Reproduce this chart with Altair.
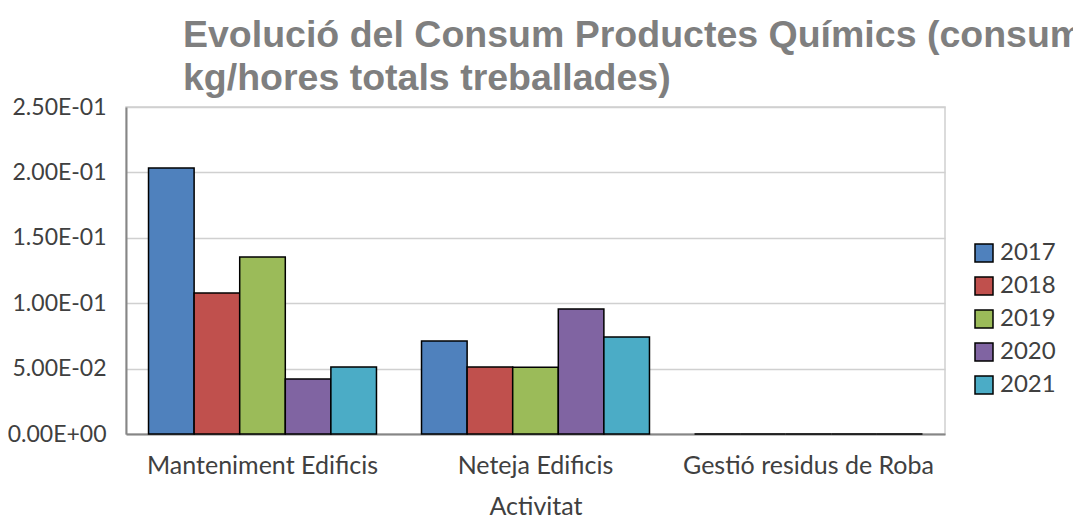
import altair as alt
import pandas as pd

categories = ["Manteniment Edificis", "Neteja Edificis", "Gestió residus de Roba"]
years = ["2017", "2018", "2019", "2020", "2021"]
v2017 = [0.2034, 0.0711, 0.0]
v2018 = [0.1078, 0.0512, 0.0]
v2019 = [0.1353, 0.0510, 0.0]
v2020 = [0.0420, 0.0956, 0.0]
v2021 = [0.0512, 0.0742, 0.0]
colors = ["#4f81bd", "#c0504d", "#9bbb59", "#8064a2", "#4bacc6"]
y_ticks = [0.0, 0.05, 0.10, 0.15, 0.20, 0.25]
title_lines = ["Evolució del Consum Productes Químics (consum", "kg/hores totals treballades)"]

series = [v2017, v2018, v2019, v2020, v2021]
rows = []
for yr, vals in zip(years, series):
    for cat, v in zip(categories, vals):
        rows.append({"Activitat": cat, "Any": yr, "Valor": v})
df = pd.DataFrame(rows)

label_font = "Lato"
label_color = "#404040"
fs = 23
fsx = 25

chart = alt.Chart(df).mark_bar(stroke="black", strokeWidth=1.5).encode(
    x=alt.X("Activitat:N", sort=categories,
            scale=alt.Scale(paddingInner=0.165, paddingOuter=0.0825),
            axis=alt.Axis(title="Activitat", labelAngle=0, ticks=False, labelLimit=0,
                          domainColor="#868686", domainWidth=2,
                          labelFontSize=fsx, labelFont=label_font, labelColor=label_color,
                          labelPadding=19, titleFontSize=fsx, titleFont=label_font,
                          titleColor=label_color, titleFontWeight="normal", titlePadding=16)),
    xOffset=alt.XOffset("Any:N", sort=years, scale=alt.Scale(paddingInner=0, paddingOuter=0)),
    y=alt.Y("Valor:Q", scale=alt.Scale(domain=[0, 0.25], nice=False),
            axis=alt.Axis(title=None, values=y_ticks, ticks=False,
                          labelExpr="replace(replace(format(datum.value, '.2e'), 'e-', 'E-0'), 'e+', 'E+0')",
                          domainColor="#868686", domainWidth=2,
                          gridColor="#d0d0d0", gridWidth=1.5,
                          labelFontSize=fs, labelFont=label_font, labelColor=label_color,
                          labelPadding=20)),
    fill=alt.Fill("Any:N", sort=years, scale=alt.Scale(domain=years, range=colors),
                  legend=alt.Legend(title=None, orient="none", legendX=846, legendY=134,
                                    symbolType="square", symbolSize=324,
                                    symbolStrokeColor="black", symbolStrokeWidth=1.5,
                                    labelFontSize=24, labelFont=label_font, labelColor=label_color,
                                    labelOffset=4, rowPadding=9)),
).properties(
    width=819, height=327,
    title=alt.TitleParams(title_lines, anchor="start", frame="group", dx=57, offset=-1,
                          fontSize=37.5, font="Liberation Sans", fontWeight="bold",
                          color="#7f7f7f", lineHeight=43),
    autosize=alt.AutoSizeParams(type="none"),
    padding={"left": 118, "top": 99, "right": 128, "bottom": 86},
).configure_view(stroke="#d0d0d0", strokeWidth=1.5)

chart.save("out.html", embed_options={"renderer": "svg", "actions": False})
